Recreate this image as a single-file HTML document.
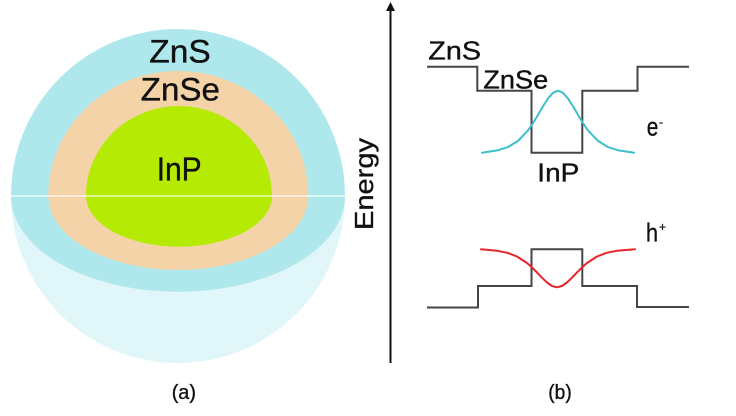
<!DOCTYPE html>
<html>
<head>
<meta charset="utf-8">
<style>
  html,body{margin:0;padding:0;background:#fff;}
  svg{display:block;}
  text{font-family:"Liberation Sans",Arial,sans-serif;fill:#111;stroke:#111;stroke-width:0.35;}
</style>
</head>
<body>
<svg width="736" height="416" viewBox="0 0 736 416" xmlns="http://www.w3.org/2000/svg">
  <rect width="736" height="416" fill="#fff"/>

  <!-- Panel (a): core/shell sphere -->
  <path d="M11,196 A167,167 0 0 0 345,196 Z" fill="#e0f6f8"/>
  <path d="M11,196 A167,167 0 0 1 345,196 A167,95.7 0 0 1 11,196 Z" fill="#aee8ec"/>
  <path d="M48.3,196 A130,125 0 0 1 308.3,196 A130,74 0 0 1 48.3,196 Z" fill="#f5d3a9"/>
  <path d="M86,196 A93,90 0 0 1 272,196 A93,50.7 0 0 1 86,196 Z" fill="#b4ea04"/>
  <line x1="11" y1="196" x2="345" y2="196" stroke="#ffffff" stroke-opacity="0.75" stroke-width="1.5"/>

  <text x="149.3" y="62.3" font-size="32" textLength="61.4" lengthAdjust="spacingAndGlyphs">ZnS</text>
  <text x="140.7" y="100.7" font-size="32" textLength="79.3" lengthAdjust="spacingAndGlyphs">ZnSe</text>
  <text x="156.7" y="180.7" font-size="33" textLength="45" lengthAdjust="spacingAndGlyphs">InP</text>

  <text x="171.7" y="399" font-size="20" textLength="24.3" lengthAdjust="spacingAndGlyphs">(a)</text>

  <!-- Panel (b): energy diagram -->
  <line x1="390.5" y1="9" x2="390.5" y2="363" stroke="#111" stroke-width="2"/>
  <polygon points="386,11 390.5,2 395,11" fill="#111"/>
  <text transform="translate(373,184) rotate(-90)" x="0" y="0" font-size="26" text-anchor="middle" textLength="92" lengthAdjust="spacingAndGlyphs">Energy</text>

  <path d="M427,66.7 H477.3 V90.7 H531.5 V152.7 H582.3 V90.7 H637.5 V66.7 H689" fill="none" stroke="#464646" stroke-width="2"/>
  <path d="M427,307.5 H478 V286 H531.5 V249.3 H582.3 V286 H637 V307 H689" fill="none" stroke="#464646" stroke-width="2"/>

  <polyline fill="none" stroke="#3ebfcc" stroke-width="2" stroke-linejoin="round" stroke-linecap="round"
    points="482,152.7 498,150.2 508,147.1 518,140.9 528,130.4 533,123.1 538,114.9 543,106.3 548,98.5 553,92.8 558,90.7 563,92.8 568,98.5 573,106.3 578,114.9 583,123.1 588,130.4 598,140.9 608,147.1 618,150.2 634,152.7"/>

  <polyline fill="none" stroke="#e8242b" stroke-width="2" stroke-linejoin="round" stroke-linecap="round"
    points="481,249.3 497,250.8 507,252.7 517,256.5 527,263 532,267.4 537,272.4 542,277.7 547,282.5 552,286 557,287.3 562,286 567,282.5 572,277.7 577,272.4 582,267.4 587,263 597,256.5 607,252.7 617,250.8 635,249.3"/>

  <text x="428.3" y="59.3" font-size="26" textLength="52.7" lengthAdjust="spacingAndGlyphs">ZnS</text>
  <text x="483.3" y="88.3" font-size="26" textLength="65" lengthAdjust="spacingAndGlyphs">ZnSe</text>
  <text x="537.3" y="181.7" font-size="26" textLength="42" lengthAdjust="spacingAndGlyphs">InP</text>

  <text x="646.7" y="135.7" font-size="26" textLength="11.6" lengthAdjust="spacingAndGlyphs">e</text>
  <text x="659" y="126" font-size="12">-</text>
  <text x="646" y="241.7" font-size="26" textLength="12" lengthAdjust="spacingAndGlyphs">h</text>
  <text x="659" y="231" font-size="12">+</text>

  <text x="548.3" y="399" font-size="20" textLength="23.4" lengthAdjust="spacingAndGlyphs">(b)</text>
</svg>
</body>
</html>
